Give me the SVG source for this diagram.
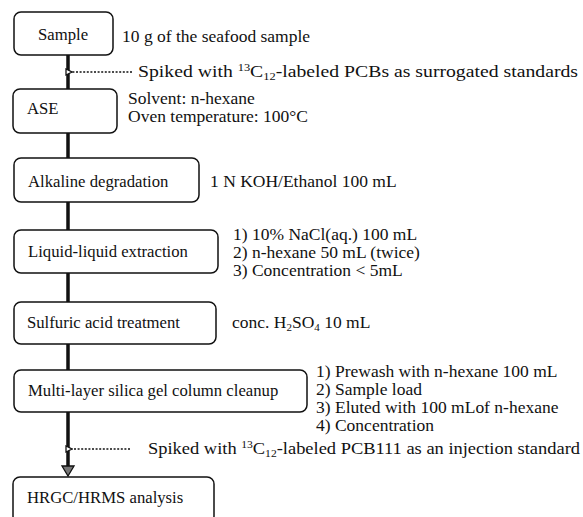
<svg xmlns="http://www.w3.org/2000/svg" width="583" height="517" viewBox="0 0 583 517">
<style>
.box{fill:#fff;stroke:#111;stroke-width:1.5}
.t{font-family:"Liberation Serif","Times New Roman",serif;font-size:16.7px;fill:#111}
.a{font-family:"Liberation Serif","Times New Roman",serif;font-size:17.5px;fill:#111}
.l{font-family:"Liberation Serif","Times New Roman",serif;font-size:16.2px;fill:#111}
.main{stroke:#111;stroke-width:3.5;fill:none}
.dot{stroke:#111;stroke-width:1.6;stroke-dasharray:2 1.6;fill:none}
.sm{font-size:11px}
</style>
<defs>
<marker id="openL" markerWidth="8" markerHeight="8" refX="1" refY="4" orient="auto" markerUnits="userSpaceOnUse">
<path d="M7,1 L1,4 L7,7 Z" fill="#fff" stroke="#111" stroke-width="1.3"/>
</marker>
</defs>
<rect width="583" height="517" fill="#fff"/>
<g id="connectors">
<line class="main" x1="68" y1="55" x2="68" y2="89"/>
<line class="main" x1="68" y1="133" x2="68" y2="158"/>
<line class="main" x1="68" y1="202" x2="68" y2="230"/>
<line class="main" x1="68" y1="273" x2="68" y2="302"/>
<line class="main" x1="68" y1="344" x2="68" y2="370"/>
<line class="main" x1="68" y1="412" x2="68" y2="466"/>
<path d="M62,466 L74,466 L68,476 Z" fill="#777" stroke="#111" stroke-width="1.3"/>
<line class="dot" x1="132" y1="72" x2="72" y2="72" marker-end="url(#openL)"/>
<line class="dot" x1="130" y1="449" x2="72" y2="449" marker-end="url(#openL)"/>
</g>
<g id="n-sample">
<rect class="box" x="14" y="12" width="99" height="43" rx="7"/>
<text class="t" x="38" y="40">Sample</text>
<text class="a" x="122" y="42">10 g of the seafood sample</text>
</g>
<g id="spike1">
<text class="a" x="138" y="77" textLength="440" lengthAdjust="spacingAndGlyphs">Spiked with <tspan class="sm" dy="-6">13</tspan><tspan dy="6">C</tspan><tspan class="sm" dy="3">12</tspan><tspan dy="-3">-labeled PCBs as surrogated standards</tspan></text>
</g>
<g id="n-ase">
<rect class="box" x="13" y="89" width="104" height="44" rx="7"/>
<text class="t" x="27" y="114">ASE</text>
<g transform="translate(128,0) scale(1.08,1)">
<text class="l" x="0" y="104">Solvent: n-hexane</text>
<text class="l" x="0" y="122">Oven temperature: 100°C</text>
</g>
</g>
<g id="n-alkaline">
<rect class="box" x="14" y="158" width="185" height="44" rx="7"/>
<text class="t" x="28" y="187">Alkaline degradation</text>
<text class="a" x="210" y="187">1 N KOH/Ethanol 100 mL</text>
</g>
<g id="n-liquid">
<rect class="box" x="14" y="230" width="204" height="43" rx="7"/>
<text class="t" x="28" y="257">Liquid-liquid extraction</text>
<g transform="translate(233,0) scale(1.08,1)">
<text class="l" x="0" y="240">1) 10% NaCl(aq.) 100 mL</text>
<text class="l" x="0" y="258">2) n-hexane 50 mL (twice)</text>
<text class="l" x="0" y="276">3) Concentration &lt; 5mL</text>
</g>
</g>
<g id="n-sulfuric">
<rect class="box" x="14" y="302" width="202" height="42" rx="7"/>
<text class="t" x="27" y="328">Sulfuric acid treatment</text>
<text class="a" x="232" y="328">conc. H<tspan class="sm" dy="3">2</tspan><tspan dy="-3">SO</tspan><tspan class="sm" dy="3">4</tspan><tspan dy="-3"> 10 mL</tspan></text>
</g>
<g id="n-multi">
<rect class="box" x="14" y="370" width="293" height="42" rx="7"/>
<text class="t" x="28" y="396">Multi-layer silica gel column cleanup</text>
<g transform="translate(316,0) scale(1.08,1)">
<text class="l" x="0" y="377">1) Prewash with n-hexane 100 mL</text>
<text class="l" x="0" y="395">2) Sample load</text>
<text class="l" x="0" y="413">3) Eluted with 100 mLof n-hexane</text>
<text class="l" x="0" y="431">4) Concentration</text>
</g>
</g>
<g id="spike2">
<text class="a" x="148" y="454" textLength="432" lengthAdjust="spacingAndGlyphs">Spiked with <tspan class="sm" dy="-6">13</tspan><tspan dy="6">C</tspan><tspan class="sm" dy="3">12</tspan><tspan dy="-3">-labeled PCB111 as an injection standard</tspan></text>
</g>
<g id="n-hrgc">
<rect class="box" x="13" y="477" width="201" height="46" rx="7"/>
<text class="t" x="27" y="503">HRGC/HRMS analysis</text>
</g>
</svg>
